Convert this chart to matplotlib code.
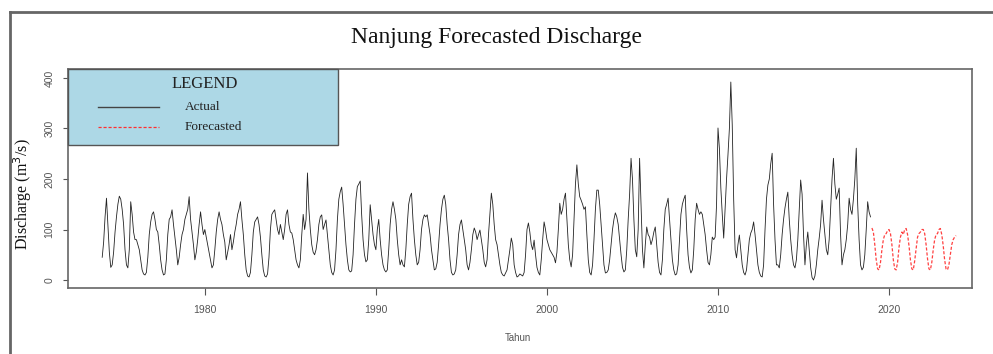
import numpy as np
import matplotlib
matplotlib.use("Agg")
import matplotlib.pyplot as plt
from matplotlib.patches import Rectangle
from matplotlib.lines import Line2D

# monthly discharge (m3/s), Jan..Dec per row
actual_start = 1974
actual_q = [
    45, 75, 125, 162, 110, 55, 25, 30, 55, 95, 125, 150,      # 1974
    166, 160, 140, 110, 60, 30, 24, 60, 155, 130, 95, 80,     # 1975
    80, 70, 60, 40, 20, 12, 10, 15, 45, 90, 115, 130,         # 1976
    135, 120, 100, 95, 70, 40, 20, 10, 12, 40, 90, 120,       # 1977
    125, 139, 110, 85, 60, 30, 45, 70, 90, 100, 120, 130,     # 1978
    140, 165, 120, 95, 70, 40, 55, 80, 110, 135, 110, 90,     # 1979
    100, 85, 70, 55, 40, 24, 30, 60, 95, 120, 135, 120,       # 1980
    110, 90, 75, 40, 55, 70, 90, 60, 75, 95, 110, 130,        # 1981
    140, 155, 120, 90, 50, 20, 8, 6, 15, 50, 95, 115,         # 1982
    120, 125, 110, 85, 50, 20, 8, 6, 12, 45, 100, 130,        # 1983
    135, 139, 120, 100, 90, 110, 95, 80, 100, 130, 139, 110,  # 1984
    95, 93, 80, 60, 40, 30, 24, 40, 90, 130, 100, 120,        # 1985
    212, 140, 100, 70, 55, 50, 60, 80, 110, 125, 129, 100,    # 1986
    110, 119, 90, 60, 30, 15, 10, 20, 60, 120, 160, 175,      # 1987
    184, 150, 110, 70, 40, 20, 16, 18, 50, 110, 160, 185,     # 1988
    190, 196, 130, 80, 50, 36, 40, 80, 149, 120, 90, 70,      # 1989
    60, 100, 120, 80, 50, 30, 20, 16, 20, 60, 110, 140,       # 1990
    155, 140, 120, 80, 50, 30, 40, 30, 26, 60, 110, 150,      # 1991
    165, 172, 120, 80, 50, 30, 35, 60, 100, 120, 129, 125,    # 1992
    129, 110, 90, 60, 40, 20, 22, 35, 70, 110, 140, 160,      # 1993
    168, 150, 110, 80, 40, 15, 10, 12, 20, 50, 90, 110,       # 1994
    119, 100, 80, 60, 30, 20, 35, 60, 90, 103, 95, 80,        # 1995
    90, 99, 80, 60, 35, 26, 40, 90, 130, 172, 150, 110,       # 1996
    80, 70, 50, 30, 15, 10, 8, 14, 20, 40, 60, 83,            # 1997
    70, 30, 15, 6, 8, 12, 10, 8, 15, 50, 100, 113,            # 1998
    95, 70, 60, 79, 50, 25, 15, 10, 40, 80, 115, 100,         # 1999
    80, 70, 60, 55, 50, 45, 34, 55, 100, 152, 130, 140,       # 2000
    160, 172, 120, 70, 40, 26, 50, 120, 190, 228, 190, 165,   # 2001
    158, 150, 140, 145, 90, 40, 15, 10, 30, 80, 140, 178,     # 2002
    178, 150, 110, 70, 30, 14, 15, 20, 40, 70, 100, 120,      # 2003
    133, 125, 110, 80, 50, 25, 16, 20, 60, 120, 170, 241,     # 2004
    200, 120, 60, 46, 100, 241, 150, 60, 24, 70, 105, 90,     # 2005
    85, 70, 80, 95, 105, 70, 35, 15, 10, 40, 100, 140,        # 2006
    150, 162, 120, 80, 40, 20, 10, 12, 30, 80, 130, 150,      # 2007
    160, 168, 100, 50, 25, 14, 20, 60, 120, 152, 140, 130,    # 2008
    135, 130, 110, 90, 60, 35, 30, 50, 85, 80, 85, 150,       # 2009
    301, 260, 182, 130, 83, 140, 200, 248, 300, 392, 307, 160,  # 2010
    60, 44, 70, 89, 60, 30, 15, 10, 20, 50, 80, 93,           # 2011
    100, 115, 90, 60, 30, 15, 8, 6, 30, 100, 160, 188,        # 2012
    200, 230, 251, 150, 80, 30, 30, 24, 50, 90, 120, 143,     # 2013
    160, 174, 120, 80, 50, 30, 24, 40, 80, 140, 198, 170,     # 2014
    90, 30, 70, 95, 60, 25, 5, 0, 8, 30, 60, 83,              # 2015
    110, 158, 120, 90, 60, 50, 80, 140, 200, 241, 190, 160,   # 2016
    170, 182, 90, 30, 50, 60, 80, 110, 162, 140, 130, 160,    # 2017
    200, 261, 150, 80, 30, 20, 25, 50, 100, 155, 135, 125,    # 2018
]

forecast_start = 2019
forecast_q = [
    103, 95, 70, 40, 22, 20, 35, 60, 80, 90, 92, 98,     # 2019
    100, 92, 70, 40, 22, 20, 35, 65, 85, 95, 90, 100,    # 2020
    102, 90, 68, 40, 22, 20, 38, 62, 85, 92, 95, 100,    # 2021
    100, 92, 70, 42, 22, 20, 35, 60, 80, 90, 92, 100,    # 2022
    102, 90, 68, 40, 22, 20, 30, 50, 70, 80, 85, 88,     # 2023
]

x_ticks = [1980, 1990, 2000, 2010, 2020]
y_ticks = [0, 100, 200, 300, 400]

t_actual = actual_start + np.arange(len(actual_q)) / 12
t_fc = forecast_start + np.arange(len(forecast_q)) / 12

W, H = 993, 354
fig = plt.figure(figsize=(W / 100, H / 100), dpi=100)
fig.patch.set_facecolor("white")

# plot region (pixels: x 68..972, y 69..288)
ax = fig.add_axes([68 / W, 1 - 288 / H, (972 - 68) / W, (288 - 69) / H])

ax.plot(t_actual, actual_q, color="#222222", lw=0.6)
ax.plot(t_fc, forecast_q, color="#ff4040", lw=0.9, ls=(0, (2.5, 1.5)))

ax.set_xlim(1972.0, 2024.85)
ax.set_ylim(-15.8, 417.8)
ax.set_xticks(x_ticks)
ax.set_yticks(y_ticks)
ax.set_xticklabels([str(v) for v in x_ticks], fontsize=7.5, color="#555555",
                   family="Liberation Sans")
ax.set_yticklabels([str(v) for v in y_ticks], fontsize=7.5, color="#555555",
                   family="Liberation Sans", rotation=90, va="center")
ax.tick_params(axis="x", length=5, width=0.8, color="#555555", pad=7)
ax.tick_params(axis="y", length=3.6, width=0.8, color="#555555", pad=6)
for s in ax.spines.values():
    s.set_color("#666666")
    s.set_linewidth(1.2)

# legend box drawn like the R legend()
ax.add_patch(Rectangle((0, 0.653), 0.2987, 0.347, transform=ax.transAxes,
                       facecolor="#ADD8E6", edgecolor="#555555", lw=1.0,
                       zorder=5, clip_on=False))
ax.text(0.1515, 0.9315, "LEGEND", transform=ax.transAxes, ha="center", va="center",
        fontsize=12, family="Liberation Serif", color="#222222", zorder=6)
ax.add_line(Line2D([0.0332, 0.1007], [0.8265, 0.8265], transform=ax.transAxes,
                   color="#444444", lw=1.0, zorder=6))
ax.add_line(Line2D([0.0332, 0.1007], [0.735, 0.735], transform=ax.transAxes,
                   color="#ff3030", lw=0.9, ls=(0, (2.5, 1.5)), zorder=6))
ax.text(0.1294, 0.8265, "Actual", transform=ax.transAxes, ha="left", va="center",
        fontsize=9.5, family="Liberation Serif", color="#222222", zorder=6)
ax.text(0.1294, 0.735, "Forecasted", transform=ax.transAxes, ha="left", va="center",
        fontsize=9.5, family="Liberation Serif", color="#222222", zorder=6)

fig.text(0.5, 1 - 37 / H, "Nanjung Forecasted Discharge", ha="center", va="center",
         fontsize=17, family="Liberation Serif", color="#111111")
fig.text(23 / W, 1 - 194 / H, "Discharge (m$^3$/s)", ha="center", va="center",
         rotation=90, fontsize=11.5, family="Liberation Serif", color="#111111")
fig.text(518 / W, 1 - 338 / H, "Tahun", ha="center", va="center",
         fontsize=7, family="Liberation Sans", color="#555555")

# outer frame (top and left edges of the page)
fig.add_artist(Line2D([10 / W, 1], [1 - 12 / H, 1 - 12 / H], transform=fig.transFigure,
                      color="#666666", lw=2))
fig.add_artist(Line2D([10 / W, 10 / W], [0, 1 - 12 / H], transform=fig.transFigure,
                      color="#666666", lw=2))

fig.savefig("out.png", dpi=100)
